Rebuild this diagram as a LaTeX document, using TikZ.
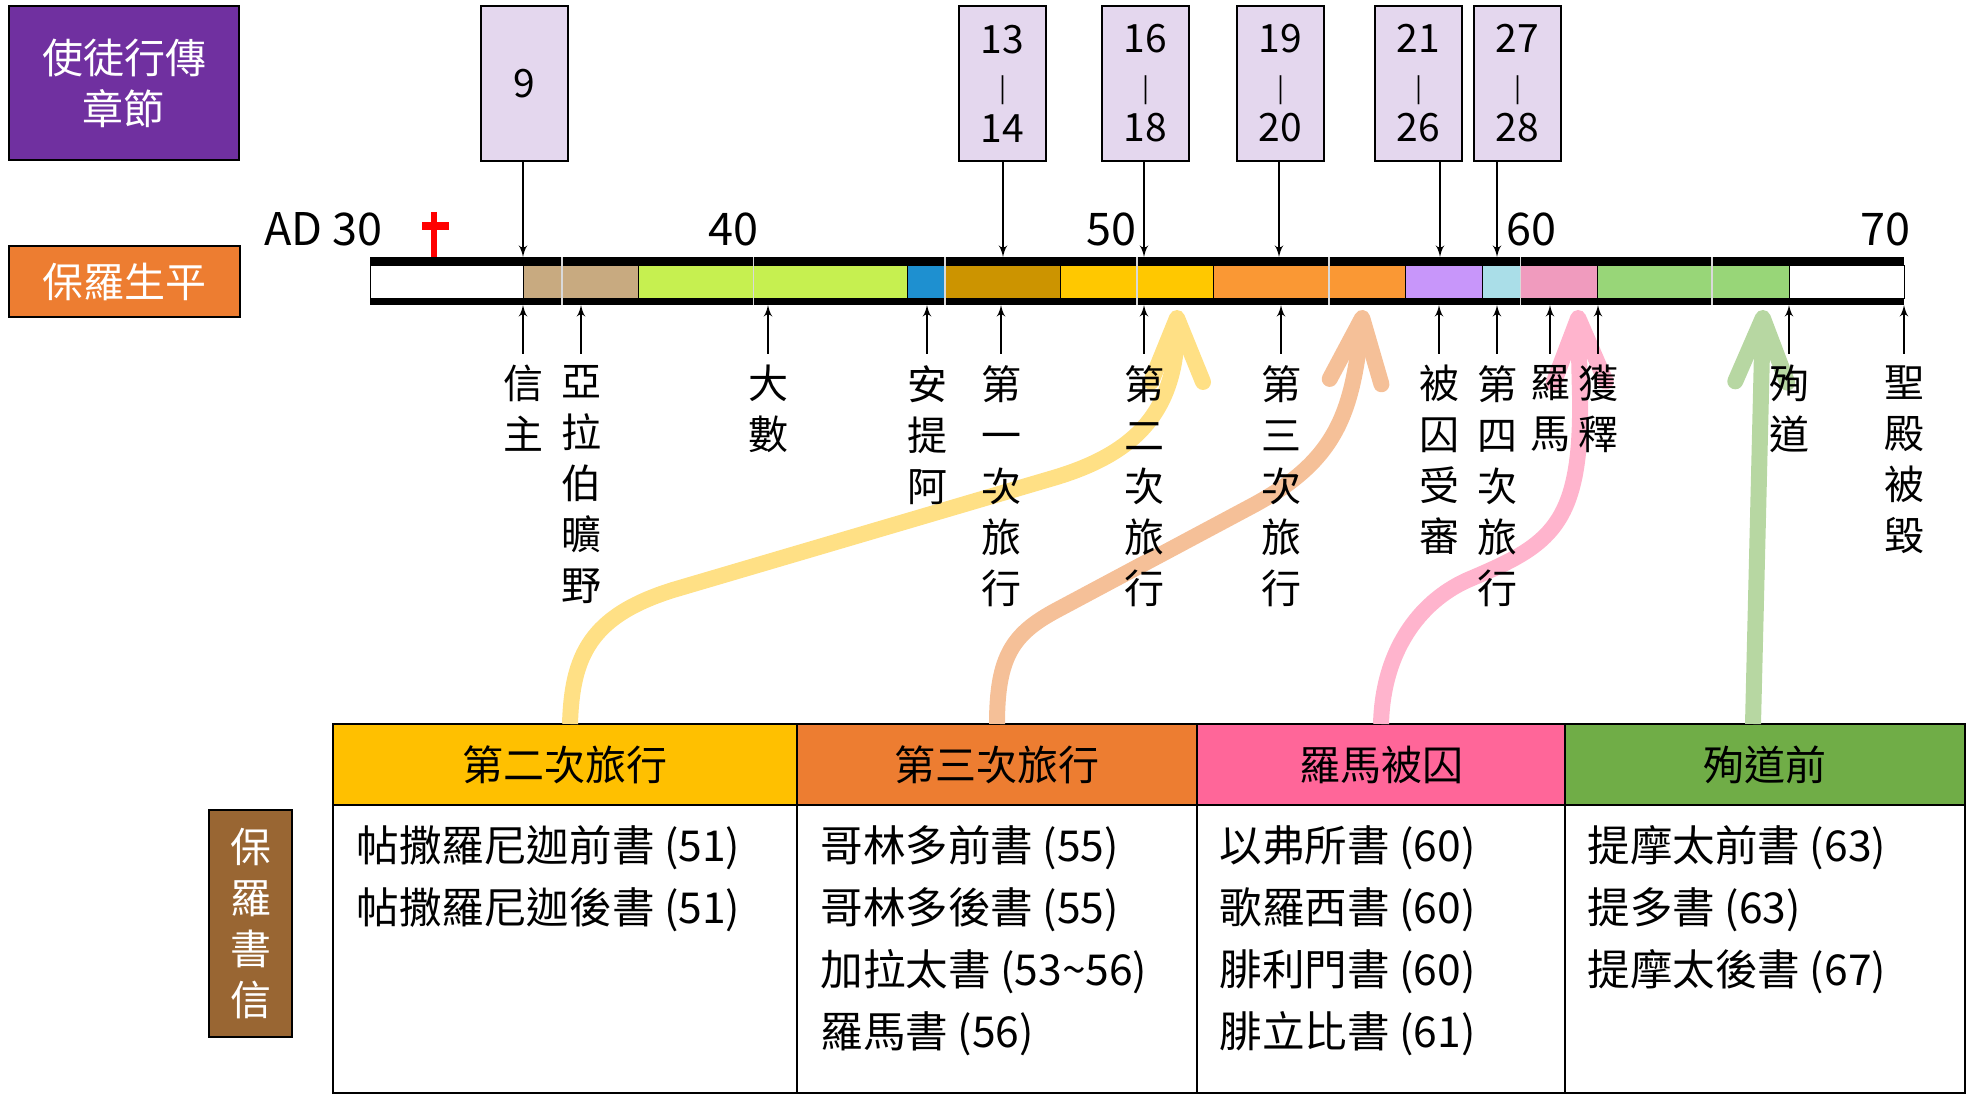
\documentclass[tikz,border=0pt]{standalone}
\usepackage{fontspec}
\setmainfont{Noto Sans CJK TC}
\usepackage{xcolor}
\usepackage{tikz}
\usetikzlibrary{shapes,arrows,arrows.meta,positioning}

\definecolor{actsviolet}{RGB}{112,48,160}
\definecolor{lifeorange}{RGB}{237,125,49}
\definecolor{chaplilac}{RGB}{228,215,238}
\definecolor{letterbrown}{RGB}{153,102,51}
\definecolor{segtan}{RGB}{200,170,128}
\definecolor{seglime}{RGB}{198,240,80}
\definecolor{segblue}{RGB}{30,144,208}
\definecolor{seggold}{RGB}{204,148,0}
\definecolor{segyellow}{RGB}{255,200,0}
\definecolor{segorange}{RGB}{250,152,52}
\definecolor{segviolet}{RGB}{200,150,250}
\definecolor{segcyan}{RGB}{170,222,232}
\definecolor{segpink}{RGB}{240,155,190}
\definecolor{seggreen}{RGB}{152,214,120}
\definecolor{hdyellow}{RGB}{255,192,0}
\definecolor{hdorange}{RGB}{237,125,49}
\definecolor{hdpink}{RGB}{255,102,153}
\definecolor{hdgreen}{RGB}{112,173,71}
\definecolor{trailyellow}{RGB}{255,224,133}
\definecolor{trailorange}{RGB}{245,192,152}
\definecolor{trailpink}{RGB}{255,180,205}
\definecolor{trailgreen}{RGB}{183,215,162}

\newcommand{\dash}{{\fontsize{13}{13}\selectfont |}}

\begin{document}
\begin{tikzpicture}[x=0.5pt, y=0.5pt, font=\fontsize{20.5}{25.5}\selectfont]
        \tikzstyle{title} = [rectangle, draw, line width=1pt, text=white, align=center, inner sep=0pt]
        \tikzstyle{chapter} = [rectangle, draw, line width=0.8pt, fill=chaplilac,
            minimum width=43.5pt, minimum height=77.5pt, align=center, inner sep=0pt,
            font=\fontsize{19.5}{22.3}\selectfont]
        \tikzstyle{line} = [draw, line width=1pt, -latex']
        \tikzstyle{event} = [anchor=north, align=center, inner xsep=0pt, inner ysep=5.5pt,
            font=\fontsize{20}{25.5}\selectfont]
        \tikzstyle{yearlabel} = [anchor=base, inner sep=0pt, font=\fontsize{22.5}{25}\selectfont]
        \tikzstyle{head} = [rectangle, draw, line width=1.2pt, outer sep=0pt,
            minimum height=40.5pt, inner sep=0pt]
        \tikzstyle{cell} = [rectangle, draw, line width=0.8pt, outer sep=0pt,
            minimum height=144pt, inner sep=0pt]
        \tikzstyle{letters} = [anchor=north west, align=left, inner sep=0pt,
            font=\fontsize{21.3}{31}\selectfont]
        \tikzstyle{journey} = [line width=8pt, -{Straight Barb[length=32pt, width=26pt, round]}]

        \useasboundingbox (0,0) rectangle (1971,1096);

        % legend boxes on the left
        \node [title, fill=actsviolet, minimum width=115pt, minimum height=77pt] (acts) at (124,1013) {使徒行傳\\章節};
        \node [title, fill=lifeorange, minimum width=115.5pt, minimum height=35.5pt] (life) at (124.5,814.5) {保羅生平};
        \node [title, fill=letterbrown, minimum width=41.5pt, minimum height=113.5pt] (epis) at (250.5,172.5) {保\\羅\\書\\信};

        % time bar, one year = 38.35
        \fill (370,791) rectangle (1904,839);
        \foreach \a/\b/\col in {30/34/white, 34/37/segtan, 37/44/seglime, 44/45/segblue,
                45/48/seggold, 48/52/segyellow, 52/57/segorange, 57/59/segviolet,
                59/60/segcyan, 60/62/segpink, 62/67/seggreen, 67/70/white}
            \filldraw [fill=\col, draw=black, line width=0.4pt] ({38.35*\a-780.5},798) rectangle ({38.35*\b-780.5},831);
        \foreach \y in {35,40,...,65}
            \draw [gray!30, line width=0.8pt] ({38.35*\y-780.5},791) -- ++(0,48);
        \coordinate (barS) at (0,791);

        \node [yearlabel] (y30) at (323.5,850) {AD 30};
        \node [yearlabel] (y40) at (733,850) {40};
        \node [yearlabel] (y50) at (1111,850) {50};
        \node [yearlabel] (y60) at (1531,850) {60};
        \node [yearlabel] (y70) at (1885.5,850) {70};
        \draw [red, line width=3.25pt] (434,884) -- (434,839);
        \draw [red, line width=4pt] (422,870) -- (449,870);

        % letters table
        \node [head, fill=hdyellow, minimum width=232pt] (h1) at (565,331.5) {第二次旅行};
        \node [head, fill=hdorange, minimum width=200pt, right=0pt of h1] (h2) {第三次旅行};
        \node [head, fill=hdpink, minimum width=184pt, right=0pt of h2] (h3) {羅馬被囚};
        \node [head, fill=hdgreen, minimum width=200pt, right=0pt of h3] (h4) {殉道前};
        \foreach \n/\w in {1/232pt, 2/200pt, 3/184pt, 4/200pt}
            \node [cell, minimum width=\w, below=0pt of h\n] (b\n) {};
        \node [letters] (t1) at ([xshift=11.5pt, yshift=-10pt]b1.north west) {帖撒羅尼迦前書 (51)\\帖撒羅尼迦後書 (51)};
        \node [letters] (t2) at ([xshift=11.5pt, yshift=-10pt]b2.north west) {哥林多前書 (55)\\哥林多後書 (55)\\加拉太書 (53\textasciitilde 56)\\羅馬書 (56)};
        \node [letters] (t3) at ([xshift=11pt, yshift=-10pt]b3.north west) {以弗所書 (60)\\歌羅西書 (60)\\腓利門書 (60)\\腓立比書 (61)};
        \node [letters] (t4) at ([xshift=11pt, yshift=-10pt]b4.north west) {提摩太前書 (63)\\提多書 (63)\\提摩太後書 (67)};

        % arrows from the table up to the bar
        \coordinate (s2) at (1177,786);
        \coordinate (s3) at (1363,786);
        \coordinate (sr) at (1578,786);
        \coordinate (sd) at (1763,786);
        \draw [journey, trailyellow] ([xshift=2.5pt]h1.north) .. controls (572,440) and (590,480) .. (673,506)
            -- (1050,617) .. controls (1130,640) and (1177,680) .. (s2);
        \draw [journey, trailorange] (h2.north) .. controls (997,440) and (1013,462.5) .. (1057,486)
            -- (1250,589) .. controls (1335,634) and (1352,680) .. (s3);
        \draw [journey, trailpink] (h3.north) .. controls (1383,450) and (1424,497.5) .. (1470,517)
            .. controls (1550,551) and (1582,570) .. (1580,700) -- (sr);
        \draw [journey, trailgreen] ([xshift=-6pt]h4.north) -- (sd);

        % events below the bar
        \foreach \x/\t [count=\i] in {523/信\\主, 581/亞\\拉\\伯\\曠\\野, 768/大\\數, 927/安\\提\\阿,
                1001/第\\一\\次\\旅\\行, 1144/第\\二\\次\\旅\\行, 1281/第\\三\\次\\旅\\行,
                1439/被\\囚\\受\\審, 1497/第\\四\\次\\旅\\行, 1550/羅\\馬, 1598/獲\\釋,
                1789/殉\\道, 1904/聖\\殿\\被\\毀} {
            \node [event] (e\i) at (\x,742) {\t};
            \path [line] (e\i.north) -- (e\i.north |- barS);
        }

        % chapters of Acts above the bar
        \node [chapter] (c9) at (524.5,1012.5) {9};
        \node [chapter] (c13) at (1002.5,1012.5) {13\\\dash\\14};
        \node [chapter] (c16) at (1145.5,1012.5) {16\\\dash\\18};
        \node [chapter] (c19) at (1280.5,1012.5) {19\\\dash\\20};
        \node [chapter] (c21) at (1418.5,1012.5) {21\\\dash\\26};
        \node [chapter] (c27) at (1517.5,1012.5) {27\\\dash\\28};
        \foreach \n/\x in {c9/523, c13/1003, c16/1144, c19/1279, c21/1440, c27/1497} {
            \coordinate (d\n) at (\x,839);
            \path [line] (\n.south -| d\n) -- (d\n);
        }
\end{tikzpicture}
\end{document}
